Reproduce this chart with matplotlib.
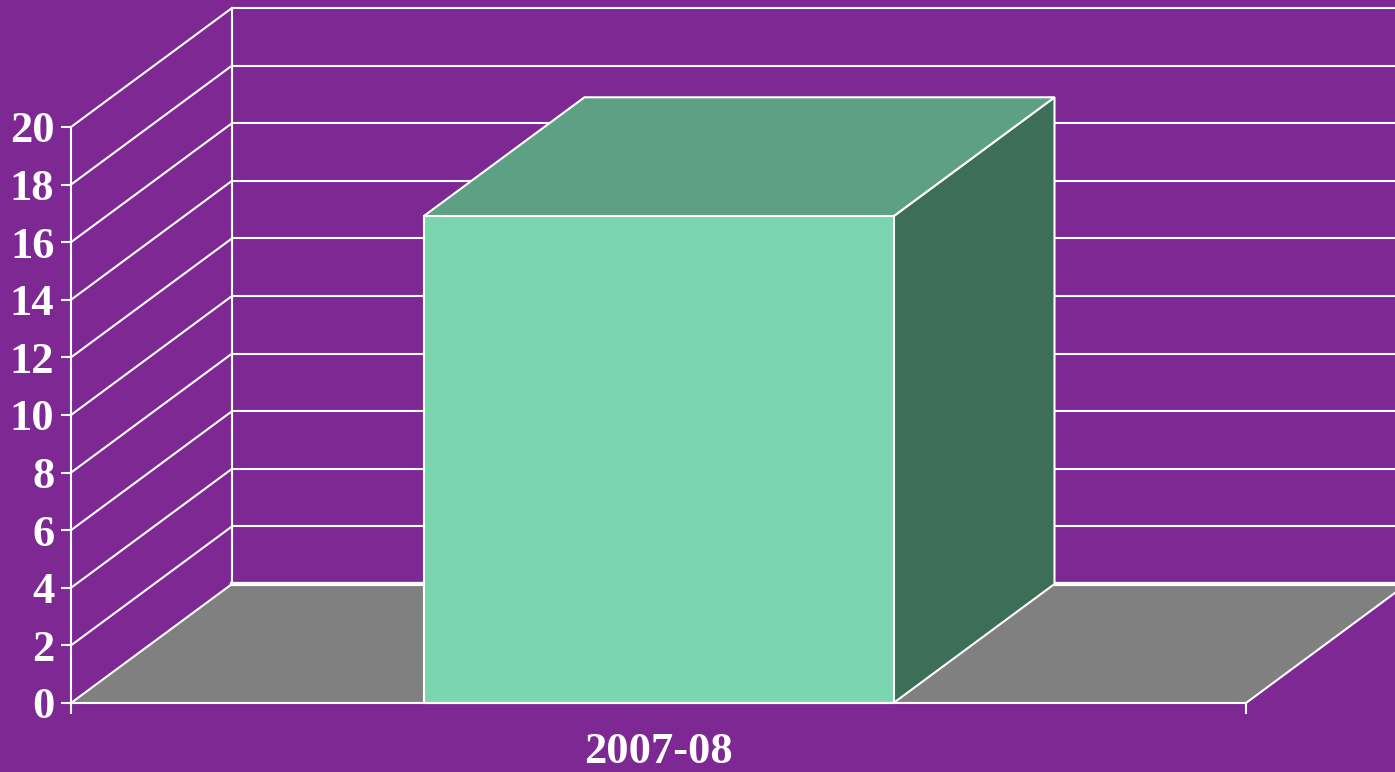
import matplotlib
matplotlib.use('Agg')
import matplotlib.pyplot as plt
from matplotlib.patches import Polygon

categories = ['2007-08']
values = [16.9]
y_ticks = list(range(0, 21, 2))

BG = '#7D2893'
FRONT = '#7BD5AF'
TOP = '#5DA084'
SIDE = '#3D6E58'
FLOOR = '#808080'
WHITE = 'white'


def draw_chart():
    fig = plt.figure(figsize=(13.95, 7.72), dpi=100, facecolor=BG)
    ax = fig.add_axes([71 / 1395, 69 / 772, 1175 / 1395, 576 / 772])
    ax.set_facecolor('none')
    ax.set_xlim(0, 1)
    ax.set_ylim(0, 20)

    # oblique depth offset (fraction of x range, y units)
    dx = 161 / 1175
    dy = 119 / 28.8
    ymax = y_ticks[-1]

    # back wall
    for v in y_ticks:
        lw = 3 if v == 0 else 1.5
        ax.plot([dx, 1 + dx], [v + dy, v + dy], color=WHITE, lw=lw, zorder=1, clip_on=False)
        ax.plot([0, dx], [v, v + dy], color=WHITE, lw=1.5, zorder=3, clip_on=False)
    ax.plot([dx, dx], [dy, ymax + dy], color=WHITE, lw=1.5, zorder=1, clip_on=False)

    # floor
    floor = Polygon([(0, 0), (1, 0), (1 + dx, dy), (dx, dy)], closed=True,
                    facecolor=FLOOR, edgecolor='none', zorder=2, clip_on=False)
    ax.add_patch(floor)
    ax.plot([1, 1 + dx], [0, dy], color=WHITE, lw=1.5, zorder=3, clip_on=False)
    ax.plot([dx, 1 + dx], [dy, dy], color=WHITE, lw=3, zorder=3, clip_on=False)

    # bars
    width = 0.4
    for i, v in enumerate(values):
        x0 = i + 0.5 - width / 2
        x1 = x0 + width
        faces = [
            ([(x1, 0), (x1 + dx, dy), (x1 + dx, v + dy), (x1, v)], SIDE),
            ([(x0, v), (x0 + dx, v + dy), (x1 + dx, v + dy), (x1, v)], TOP),
            ([(x0, 0), (x1, 0), (x1, v), (x0, v)], FRONT),
        ]
        for pts, col in faces:
            ax.add_patch(Polygon(pts, closed=True, facecolor=col, edgecolor=WHITE,
                                 lw=1.5, zorder=5, clip_on=False, joinstyle='miter'))

    for s in ['top', 'right']:
        ax.spines[s].set_visible(False)
    for s in ['left', 'bottom']:
        ax.spines[s].set_color(WHITE)
        ax.spines[s].set_linewidth(1.5)
        ax.spines[s].set_zorder(6)

    font = dict(family='Liberation Serif', weight='bold', size=32)
    ax.set_yticks(y_ticks)
    ax.set_yticklabels([str(t) for t in y_ticks], **font, color=WHITE)
    ax.tick_params(axis='y', colors=WHITE, length=7, width=1.5, pad=5)

    ax.set_xticks([0.5 + i for i in range(len(categories))])
    ax.set_xticklabels(categories, **font, color=WHITE)
    ax.set_xticks([0, 1], minor=True)
    ax.tick_params(axis='x', which='major', length=0, pad=21, colors=WHITE)
    ax.tick_params(axis='x', which='minor', length=8, width=1.5, colors=WHITE)

    fig.savefig('out.png', dpi=100, facecolor=BG)


if __name__ == '__main__':
    draw_chart()
